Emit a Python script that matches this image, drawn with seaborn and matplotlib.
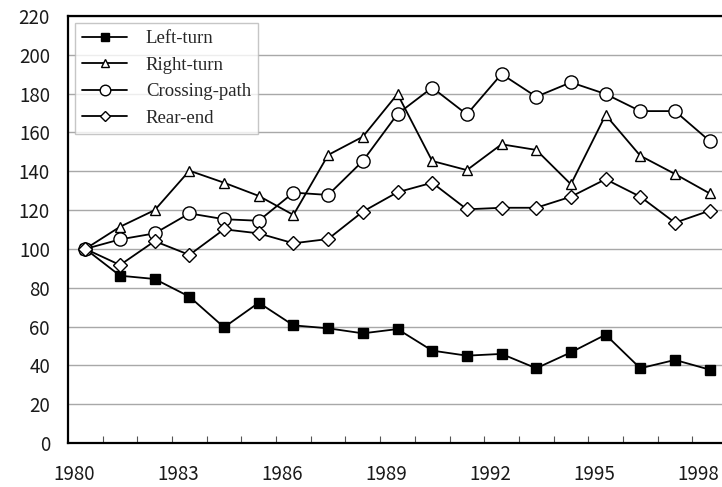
import numpy as np
import pandas as pd
import matplotlib
matplotlib.use("Agg")
import matplotlib.pyplot as plt
import matplotlib.transforms as mtrans
import seaborn as sns

# ---------------------------------------------------------
# data (index, 1980 = 100)
# ---------------------------------------------------------
years = list(range(1980, 1999))

left_turn = [100, 86.2, 84.5, 75.4, 59.6, 72.3, 60.6, 59.1, 56.5, 58.7,
             47.6, 45.0, 45.9, 38.5, 46.7, 55.8, 38.5, 42.8, 37.8]
right_turn = [100, 111.4, 120.0, 140.3, 134.1, 127.3, 117.5, 148.4, 157.8, 179.8,
              145.3, 140.6, 153.9, 151.0, 133.3, 169.0, 148.0, 138.6, 128.6]
crossing_path = [100, 104.9, 108.0, 118.3, 115.3, 114.5, 129.0, 127.8, 145.3, 169.5,
                 183.1, 169.3, 190.1, 178.4, 185.8, 179.8, 171.0, 171.0, 155.6]
rear_end = [100, 91.7, 104.0, 96.9, 110.1, 108.0, 102.9, 105.1, 119.2, 129.2,
            134.1, 120.4, 121.2, 121.2, 126.9, 135.9, 126.9, 113.5, 119.7]

series_names = ["Left-turn", "Right-turn", "Crossing-path", "Rear-end"]
label_years = [1980, 1983, 1986, 1989, 1992, 1995, 1998]
y_ticks = list(range(0, 221, 20))

df = pd.DataFrame({
    "Year": years,
    "Left-turn": left_turn,
    "Right-turn": right_turn,
    "Crossing-path": crossing_path,
    "Rear-end": rear_end,
})

# ---------------------------------------------------------
# style
# ---------------------------------------------------------
sns.set_theme(style="white")
plt.rcParams["font.family"] = ["Noto Sans CJK JP", "DejaVu Sans"]

fig = plt.figure(figsize=(7.22, 4.87), dpi=100)
ax = fig.add_axes([68 / 722, 44 / 487, 659 / 722, 427 / 487])

marker_style = {
    "Left-turn":     dict(marker="s", ms=7.5, mfc="black"),
    "Right-turn":    dict(marker="^", ms=7.5, mfc="white"),
    "Crossing-path": dict(marker="o", ms=9.5, mfc="white"),
    "Rear-end":      dict(marker="D", ms=6.8, mfc="white"),
}

for name in series_names:
    sns.lineplot(data=df, x="Year", y=name, ax=ax, color="black", lw=1.3,
                 mec="black", mew=1.0, label=name, zorder=3,
                 **marker_style[name])

# ---------------------------------------------------------
# axes
# ---------------------------------------------------------
ax.set_xlim(1979.5, 1998.5)
ax.set_ylim(0, 220)
ax.set_yticks(y_ticks)
ax.set_xticks(label_years)
ax.set_xticks(np.arange(1980.5, 1998.5, 1), minor=True)
ax.set_xlabel("")
ax.set_ylabel("")

ax.grid(axis="y", color="#a8a8a8", lw=1.0)
ax.set_axisbelow(True)

ax.tick_params(axis="x", which="major", length=0, pad=15, labelsize=13.5,
               labelcolor="#1a1a1a")
ax.tick_params(axis="x", which="minor", direction="in", length=5,
               width=0.8, color="#555555", bottom=True)
ax.tick_params(axis="y", length=0, pad=13, labelsize=13.5, labelcolor="#1a1a1a")

# shift year labels slightly to the left, as in the original
shift = mtrans.ScaledTranslation(-11 / 100, 0, fig.dpi_scale_trans)
for lab in ax.get_xticklabels():
    lab.set_transform(lab.get_transform() + shift)

for side in ["left", "bottom", "top", "right"]:
    ax.spines[side].set_color("black")
    ax.spines[side].set_linewidth(1.6)

leg = ax.legend(loc="upper left", frameon=True, fancybox=False,
                prop={"family": "Liberation Serif", "size": 13.5},
                handlelength=2.4, handletextpad=1.0, labelspacing=0.5,
                borderaxespad=0.35, borderpad=0.4, markerscale=0.8)
leg.get_frame().set_edgecolor("#b8b8b8")
leg.get_frame().set_linewidth(1.0)

plt.savefig("out.png", dpi=100)
